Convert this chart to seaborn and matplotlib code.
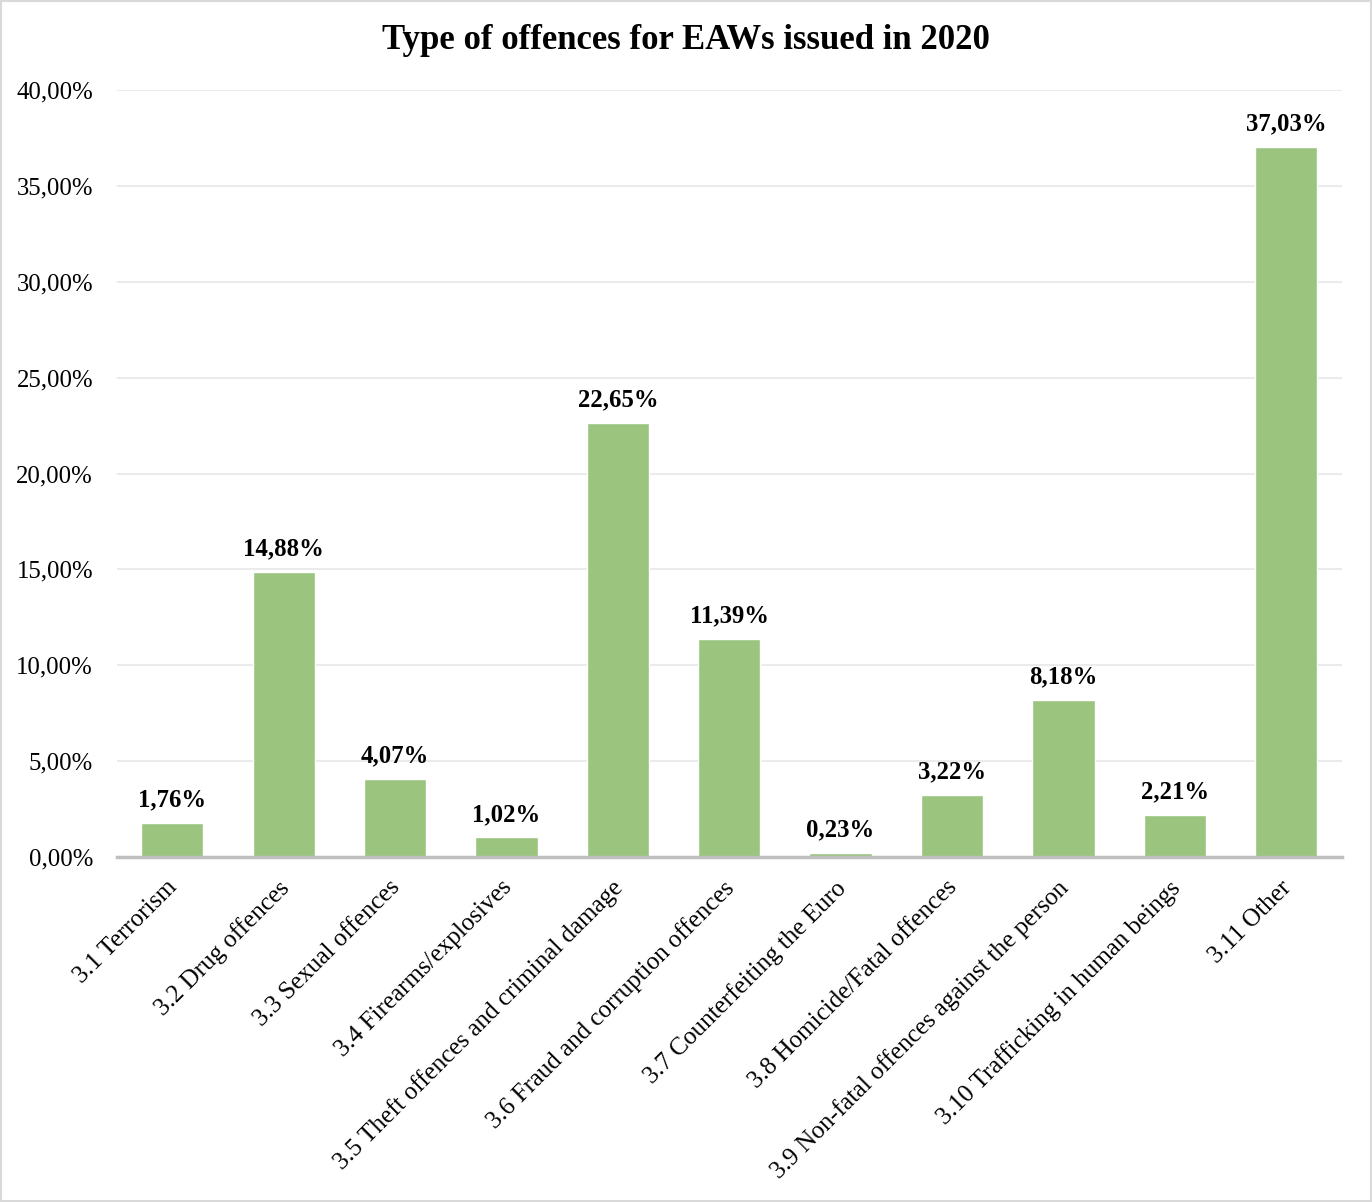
import numpy as np
import pandas as pd
import seaborn as sns
import matplotlib.pyplot as plt
import matplotlib.transforms as mtransforms
from matplotlib.ticker import FuncFormatter, MultipleLocator
from matplotlib.patches import Rectangle

categories = ['3.1 Terrorism', '3.2 Drug offences', '3.3 Sexual offences',
              '3.4 Firearms/explosives', '3.5 Theft offences and criminal damage',
              '3.6 Fraud and corruption offences', '3.7 Counterfeiting the Euro',
              '3.8 Homicide/Fatal offences', '3.9 Non-fatal offences against the person',
              '3.10 Trafficking in human beings', '3.11 Other']
shares = [1.76, 14.88, 4.07, 1.02, 22.65, 11.39, 0.23, 3.22, 8.18, 2.21, 37.03]

df = pd.DataFrame({'offence': categories, 'share': shares})

sns.set_style('white')
plt.rcParams['font.family'] = ['Liberation Serif', 'DejaVu Serif']
plt.rcParams['text.color'] = 'black'
plt.rcParams['xtick.color'] = 'black'
plt.rcParams['ytick.color'] = 'black'

fig = plt.figure(figsize=(13.72, 12.02), dpi=100)
ax = fig.add_axes([0.085, 0.287, 0.893, 0.638])

sns.barplot(data=df, x='offence', y='share', color='#9BC47F', saturation=1,
            width=0.56, ax=ax, zorder=2)

ax.set_ylim(0, 40)
ax.set_xlim(-0.5, 10.5)
ax.yaxis.set_major_locator(MultipleLocator(5))
ax.yaxis.set_major_formatter(FuncFormatter(lambda v, p: f'{v:.2f}%'.replace('.', ',')))
ax.grid(axis='y', color='#EBEBEB', linewidth=1.5, zorder=0)
ax.set_axisbelow(True)

for s in ['top', 'right', 'left']:
    ax.spines[s].set_visible(False)
ax.spines['bottom'].set_color('#BFBFBF')
ax.spines['bottom'].set_linewidth(2.5)
ax.spines['bottom'].set_zorder(3)

ax.tick_params(axis='y', length=0, pad=17, labelsize=17.8)
ax.tick_params(axis='x', length=0, pad=14, labelsize=18)
shift = mtransforms.ScaledTranslation(-6 / 100, 0, fig.dpi_scale_trans)
for lbl in ax.get_xticklabels():
    lbl.set_rotation(45)
    lbl.set_ha('right')
    lbl.set_rotation_mode('anchor')
    lbl.set_transform(lbl.get_transform() + shift)
ax.set_xlabel('')
ax.set_ylabel('')

for i, v in enumerate(shares):
    ax.text(i, v + 0.6, f'{v:.2f}%'.replace('.', ','), ha='center', va='bottom',
            fontsize=17.8, fontweight='bold')

fig.text(0.5, 0.966, 'Type of offences for EAWs issued in 2020', ha='center', va='center',
         fontsize=25, fontweight='bold')

fig.patches.append(Rectangle((0.001, 0.001), 0.998, 0.998, transform=fig.transFigure,
                             fill=False, edgecolor='#D9D9D9', linewidth=1.5))

fig.savefig('out.png', dpi=100)
